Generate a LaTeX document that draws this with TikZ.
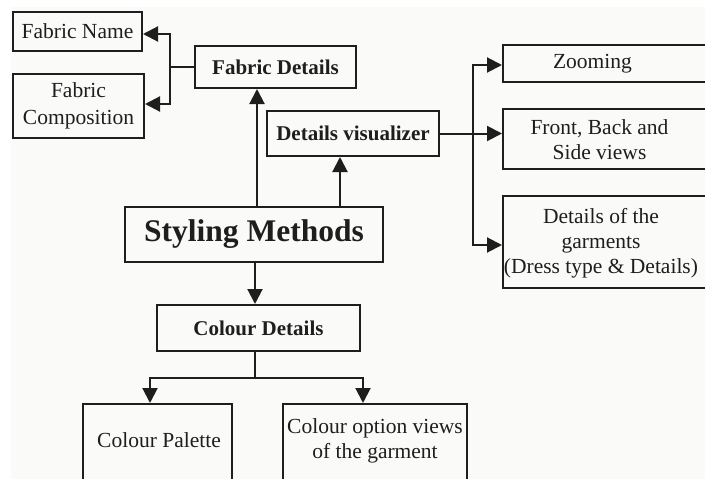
\documentclass[tikz,border=0pt]{standalone}
\usepackage{fontspec}
\setmainfont{Liberation Serif}
\usetikzlibrary{arrows.meta}
\definecolor{bgc}{HTML}{FAFAF8}
\definecolor{ink}{HTML}{1E1E1E}
\tikzset{
  box/.style={draw=ink, line width=2pt, inner sep=0pt, text=ink, align=center,
    font=\fontsize{21.5}{25}\selectfont},
  bbox/.style={box, font=\fontsize{21}{25}\selectfont\bfseries},
  lbl/.style={inner sep=0pt, text=ink, align=center, font=\fontsize{21.5}{25}\selectfont},
  conn/.style={draw=ink, line width=2pt},
  arr/.style={conn, -{Triangle[length=15pt,width=15pt]}}
}
\begin{document}
\begin{tikzpicture}[x=1pt,y=-1pt]
\useasboundingbox (0,0) rectangle (705,479);
\fill[bgc] (11,7) rectangle (705,479);

\node[box, minimum width=129, minimum height=39] (FN) at (77.5,31.5) {Fabric Name};
\node[box, minimum width=131, minimum height=64, font=\fontsize{21.5}{27}\selectfont] (FC) at (78.5,106) {Fabric\\Composition};
\node[bbox, minimum width=161, minimum height=42] (FD) at (275.5,67) {Fabric Details};
\node[bbox, minimum width=172, minimum height=45] (DV) at (353,133.5) {Details visualizer};
\node[box, minimum width=258, minimum height=55, font=\fontsize{31.5}{36}\selectfont\bfseries] (SM) at (254,234.5) {Styling Methods};
\node[bbox, minimum width=203, minimum height=46] (CD) at (258.5,328) {Colour Details};

\node[box, minimum width=209, minimum height=37] (ZO) at (607.5,63.5) {};
\node[lbl] (tZO) at (592.5,63.5) {Zooming};
\node[box, minimum width=209, minimum height=60] (FR) at (607.5,139) {};
\node[lbl] (tFR) at (599.5,140) {Front, Back and\\Side views};
\node[box, minimum width=209, minimum height=92] (DG) at (607.5,242) {};
\node[lbl] (tDG) at (601,243) {Details of the\\garments\\(Dress type \& Details)};

\node[box, minimum width=149, minimum height=100] (CP) at (157.5,454) {};
\node[lbl] (tCP) at (159,440) {Colour Palette};
\node[box, minimum width=184, minimum height=100] (CO) at (375,454) {};
\node[lbl] (tCO) at (375,441) {Colour option views\\of the garment};

% Fabric Details branches
\coordinate (j1) at (170,67);
\draw[conn] (FD.west) -- (j1);
\draw[arr] (j1) |- ([yshift=-2.5]FN.east);
\draw[arr] (j1) |- ([yshift=2]FC.east);

% Styling Methods upward
\draw[arr] ([xshift=3]SM.north) -- ([xshift=3]SM.north |- FD.south);
\draw[arr] ([xshift=86]SM.north) -- ([xshift=86]SM.north |- DV.south);

% Details visualizer branches
\coordinate (j2) at (473,133);
\draw[arr] (DV.east) -- (DV.east -| FR.west);
\draw[arr] (j2) |- ([yshift=-1.5]ZO.west);
\draw[arr] (j2) |- ([yshift=-3]DG.west);

% Colour details
\draw[arr] ([xshift=1]SM.south) -- ([xshift=1]SM.south |- CD.north);
\coordinate (j3) at (255,378);
\draw[conn] ([xshift=-3.5]CD.south) -- (j3);
\draw[arr] (j3) -| ([xshift=-7.5]CP.north);
\draw[arr] (j3) -| ([xshift=-12]CO.north);
\end{tikzpicture}
\end{document}
